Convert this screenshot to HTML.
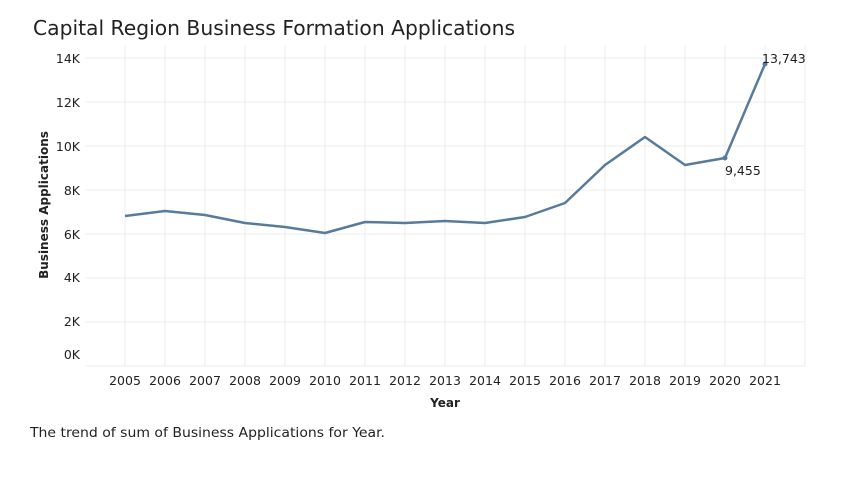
<!DOCTYPE html>
<html><head><style>
body{margin:0;background:#fff;width:843px;height:473px;overflow:hidden;font-family:"DejaVu Sans","Liberation Sans",sans-serif}
</style></head><body>
<svg width="843" height="473" xmlns="http://www.w3.org/2000/svg" font-family="DejaVu Sans, Liberation Sans, sans-serif">
<text x="33" y="35" font-size="20.3" fill="#222">Capital Region Business Formation Applications</text>
<g stroke="#ececec" stroke-width="1">
<line x1="85" x2="805" y1="58" y2="58"/><line x1="85" x2="805" y1="102" y2="102"/>
<line x1="85" x2="805" y1="146" y2="146"/><line x1="85" x2="805" y1="190" y2="190"/>
<line x1="85" x2="805" y1="234" y2="234"/><line x1="85" x2="805" y1="278" y2="278"/>
<line x1="85" x2="805" y1="322" y2="322"/><line x1="85" x2="805" y1="366" y2="366"/>
<line x1="125" x2="125" y1="45" y2="366"/><line x1="165" x2="165" y1="45" y2="366"/><line x1="205" x2="205" y1="45" y2="366"/><line x1="245" x2="245" y1="45" y2="366"/><line x1="285" x2="285" y1="45" y2="366"/><line x1="325" x2="325" y1="45" y2="366"/><line x1="365" x2="365" y1="45" y2="366"/><line x1="405" x2="405" y1="45" y2="366"/><line x1="445" x2="445" y1="45" y2="366"/><line x1="485" x2="485" y1="45" y2="366"/><line x1="525" x2="525" y1="45" y2="366"/><line x1="565" x2="565" y1="45" y2="366"/><line x1="605" x2="605" y1="45" y2="366"/><line x1="645" x2="645" y1="45" y2="366"/><line x1="685" x2="685" y1="45" y2="366"/><line x1="725" x2="725" y1="45" y2="366"/><line x1="765" x2="765" y1="45" y2="366"/><line x1="805" x2="805" y1="45" y2="366"/>
</g>
<g font-size="12.5" fill="#222" text-anchor="end">
<text x="80" y="63">14K</text><text x="80" y="107">12K</text><text x="80" y="151">10K</text><text x="80" y="195">8K</text><text x="80" y="239">6K</text><text x="80" y="282">4K</text><text x="80" y="326">2K</text><text x="80" y="359">0K</text>
</g>
<text transform="translate(48,205) rotate(-90)" font-size="12" font-weight="bold" fill="#222" text-anchor="middle">Business Applications</text>
<g font-size="12.5" fill="#222" text-anchor="middle">
<text x="125" y="385">2005</text><text x="165" y="385">2006</text><text x="205" y="385">2007</text><text x="245" y="385">2008</text><text x="285" y="385">2009</text><text x="325" y="385">2010</text><text x="365" y="385">2011</text><text x="405" y="385">2012</text><text x="445" y="385">2013</text><text x="485" y="385">2014</text><text x="525" y="385">2015</text><text x="565" y="385">2016</text><text x="605" y="385">2017</text><text x="645" y="385">2018</text><text x="685" y="385">2019</text><text x="725" y="385">2020</text><text x="765" y="385">2021</text>
</g>
<text x="445" y="407" font-size="12" font-weight="bold" fill="#222" text-anchor="middle">Year</text>
<polyline fill="none" stroke="#587a9b" stroke-width="2.5" stroke-linejoin="round" points="125,216 165,211 205,215 245,223 285,227 325,233 365,222 405,223 445,221 485,223 525,217 565,203 605,165 645,137 685,165 725,158 765,64"/>
<circle cx="725" cy="158" r="2.5" fill="#587a9b"/><circle cx="765" cy="64" r="2.5" fill="#587a9b"/>
<text x="762" y="63" font-size="12.5" fill="#222">13,743</text>
<text x="725" y="175" font-size="12.5" fill="#222">9,455</text>
<text x="30" y="437" font-size="13.5" fill="#222" textLength="355" lengthAdjust="spacingAndGlyphs">The trend of sum of Business Applications for Year.</text>
</svg>
</body></html>
